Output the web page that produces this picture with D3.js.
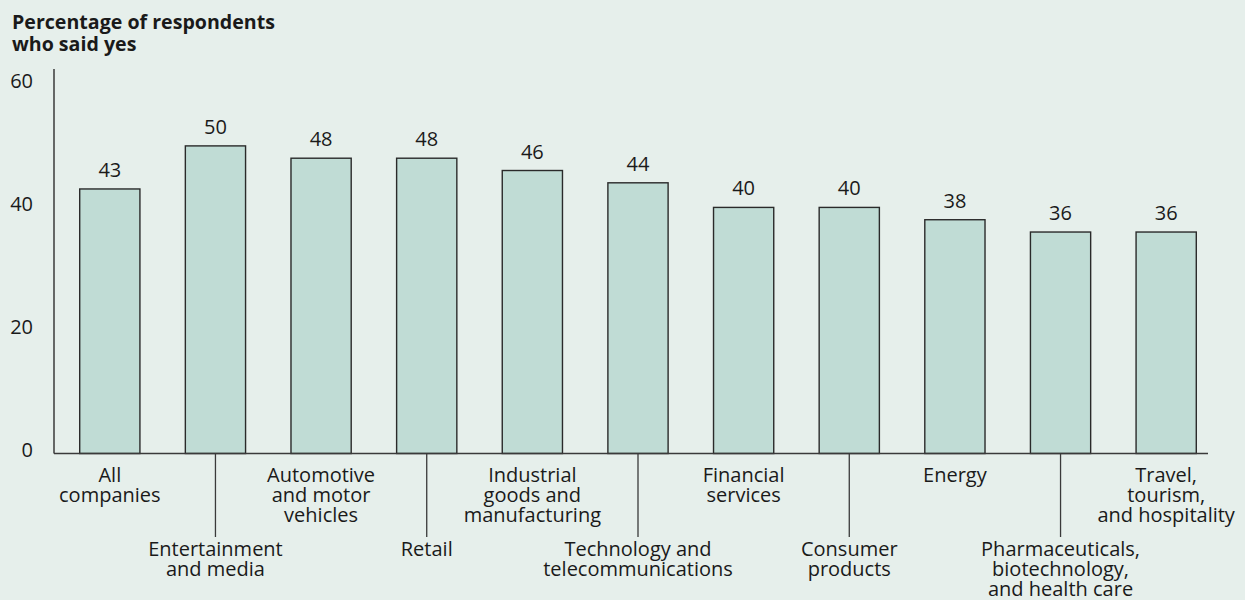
<!DOCTYPE html>
<html>
<head>
<meta charset="utf-8">
<script src="https://cdn.jsdelivr.net/npm/d3@7"></script>
<style>
  html, body { margin: 0; padding: 0; background: #e6efeb; }
  svg { display: block; }
  text { font-family: "Open Sans", "Noto Sans", sans-serif; fill: #1a1a1a; }
</style>
</head>
<body>
<svg id="chart" width="1245" height="600"></svg>
<script>
// Share of respondents answering "yes", by industry
const categories = [
  "All\ncompanies",
  "Entertainment\nand media",
  "Automotive\nand motor\nvehicles",
  "Retail",
  "Industrial\ngoods and\nmanufacturing",
  "Technology and\ntelecommunications",
  "Financial\nservices",
  "Consumer\nproducts",
  "Energy",
  "Pharmaceuticals,\nbiotechnology,\nand health care",
  "Travel,\ntourism,\nand hospitality"
];
const values = [43, 50, 48, 48, 46, 44, 40, 40, 38, 36, 36];
const yTicks = [0, 20, 40, 60];
const titleLines = ["Percentage of respondents", "who said yes"];

const W = 1245, H = 600;
const axisX = 54, baseY = 453.5, topY = 69;
const fontSize = 20;
const svg = d3.select("#chart");

svg.append("rect").attr("width", W).attr("height", H).attr("fill", "#e6efeb");

const x = d3.scaleBand()
  .domain(categories)
  .range([57, 1219])
  .paddingInner(0.43)
  .paddingOuter(0.215);

const y = d3.scaleLinear()
  .domain([0, 62.5])
  .range([baseY, topY]);

// Title
svg.append("text")
  .attr("font-size", 19.6)
  .attr("font-weight", 700)
  .selectAll("tspan")
  .data(titleLines)
  .join("tspan")
  .attr("x", 12)
  .attr("y", (d, i) => 29.3 + i * 21.3)
  .text(d => d);

// Y axis: vertical line plus tick labels, no tick marks
const yAxis = d3.axisLeft(y).tickValues(yTicks).tickSize(0).tickPadding(0);
const gy = svg.append("g")
  .attr("transform", `translate(${axisX},0)`)
  .call(yAxis);
gy.select(".domain").remove();
gy.selectAll("text")
  .attr("x", 33 - axisX)
  .attr("dy", "0.36em")
  .attr("transform", "translate(0,-4)")
  .attr("font-size", fontSize)
  .attr("font-family", null)
  .attr("fill", "#1a1a1a");
svg.append("line")
  .attr("x1", axisX).attr("x2", axisX)
  .attr("y1", y.range()[1]).attr("y2", baseY)
  .attr("stroke", "#3a3a3a").attr("stroke-width", 1.5);

// Bars
svg.append("g")
  .selectAll("rect")
  .data(values)
  .join("rect")
  .attr("x", (d, i) => x(categories[i]))
  .attr("y", d => y(d))
  .attr("width", x.bandwidth())
  .attr("height", d => baseY - y(d))
  .attr("fill", "#c0dcd5")
  .attr("stroke", "#2a2a2a")
  .attr("stroke-width", 1.4);

// Value labels
svg.append("g")
  .selectAll("text")
  .data(values)
  .join("text")
  .attr("x", (d, i) => x(categories[i]) + x.bandwidth() / 2)
  .attr("y", d => y(d) - 12)
  .attr("text-anchor", "middle")
  .attr("font-size", fontSize)
  .text(d => d);

// Baseline
svg.append("line")
  .attr("x1", axisX).attr("x2", 1208)
  .attr("y1", baseY).attr("y2", baseY)
  .attr("stroke", "#3a3a3a").attr("stroke-width", 1.5);

// Category labels, staggered: even ones directly below, odd ones lowered with a leader line
const lineH = 20;
const cat = svg.append("g");
categories.forEach((c, i) => {
  const cx = x(c) + x.bandwidth() / 2;
  const lowered = i % 2 === 1;
  const firstBase = lowered ? 555.5 : 481.7;
  if (lowered) {
    cat.append("line")
      .attr("x1", cx).attr("x2", cx)
      .attr("y1", baseY).attr("y2", 537)
      .attr("stroke", "#3a3a3a").attr("stroke-width", 1.3);
  }
  const t = cat.append("text")
    .attr("text-anchor", "middle")
    .attr("font-size", fontSize);
  c.split("\n").forEach((line, k) => {
    t.append("tspan")
      .attr("x", cx)
      .attr("y", firstBase + k * lineH)
      .text(line);
  });
});
</script>
</body>
</html>
